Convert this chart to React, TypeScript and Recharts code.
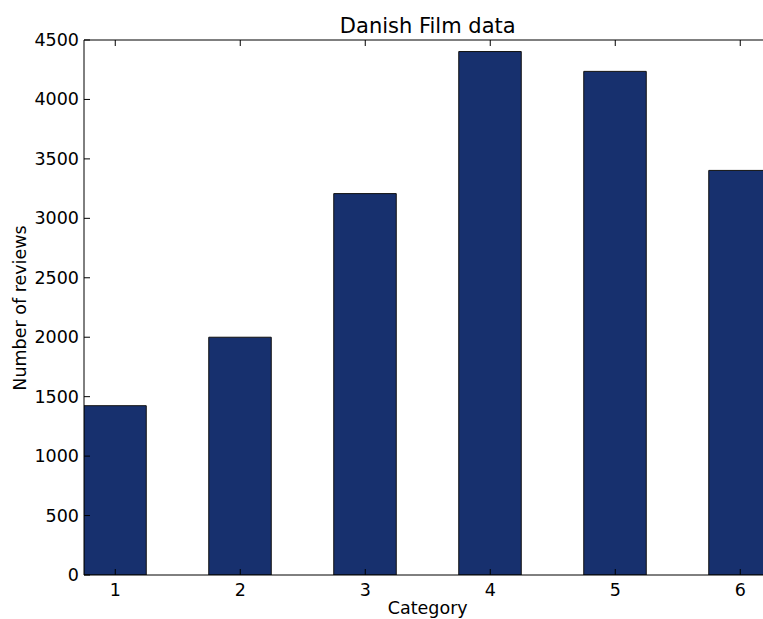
import React from 'react';
import { BarChart, Bar, XAxis, YAxis } from 'recharts';

const categories = [1, 2, 3, 4, 5, 6];
const reviewCounts = [1424, 2000, 3208, 4403, 4236, 3403];
const yTicks = [0, 500, 1000, 1500, 2000, 2500, 3000, 3500, 4000, 4500];

const chartData = categories.map((c, i) => ({ category: c, reviews: reviewCounts[i] }));

const FONT = '"DejaVu Sans", sans-serif';
const FS = 17.5;

// matplotlib classic style: ticks point into the plot
const BottomTick = (props: any) => {
  const { x, y, payload } = props;
  return (
    <g>
      <line x1={x} y1={y} x2={x} y2={y - 6} stroke="#000" strokeWidth={1} />
      <text x={x} y={y + 21} textAnchor="middle" fontFamily={FONT} fontSize={FS} fill="#000">
        {payload.value}
      </text>
    </g>
  );
};

const TopTick = (props: any) => {
  const { x, y } = props;
  return <line x1={x} y1={y} x2={x} y2={y + 6} stroke="#000" strokeWidth={1} />;
};

const LeftTick = (props: any) => {
  const { x, y, payload } = props;
  return (
    <g>
      <line x1={x} y1={y} x2={x + 6} y2={y} stroke="#000" strokeWidth={1} />
      <text x={x - 5} y={y + 6} textAnchor="end" fontFamily={FONT} fontSize={FS} fill="#000">
        {payload.value}
      </text>
    </g>
  );
};

export default function App() {
  const width = 800;
  const height = 619;

  return (
    <div style={{ position: 'absolute', left: 0, top: 0, width: 763, height: 619, overflow: 'hidden', background: '#fff' }}>
      <BarChart
        width={width}
        height={height}
        data={chartData}
        margin={{ top: 0, right: 28.5, left: 0, bottom: 0 }}
      >
        <XAxis
          dataKey="category"
          type="number"
          domain={[0.75, 6.25]}
          ticks={categories}
          allowDataOverflow
          height={44}
          tickSize={0}
          tickMargin={0}
          tick={<BottomTick />}
          axisLine={{ stroke: '#000', strokeWidth: 1 }}
          tickLine={false}
          interval={0}
        />
        <XAxis
          xAxisId="top"
          orientation="top"
          dataKey="category"
          type="number"
          domain={[0.75, 6.25]}
          ticks={categories}
          allowDataOverflow
          height={40}
          tickSize={0}
          tickMargin={0}
          tick={<TopTick />}
          axisLine={{ stroke: '#000', strokeWidth: 1 }}
          tickLine={false}
          interval={0}
        />
        <YAxis
          width={84}
          domain={[0, 4500]}
          ticks={yTicks}
          allowDataOverflow
          tickSize={0}
          tickMargin={0}
          tick={<LeftTick />}
          axisLine={{ stroke: '#000', strokeWidth: 1 }}
          tickLine={false}
          interval={0}
        />
        <Bar
          dataKey="reviews"
          barSize={62.5}
          fill="#17306e"
          stroke="#111"
          strokeWidth={1}
          isAnimationActive={false}
        />
      </BarChart>
      <div
        style={{
          position: 'absolute', left: 84, width: 687.5, top: 14, textAlign: 'center',
          fontFamily: FONT, fontSize: 21, lineHeight: '24px', color: '#000',
        }}
      >
        Danish Film data
      </div>
      <div
        style={{
          position: 'absolute', left: 84, width: 687.5, top: 597, textAlign: 'center',
          fontFamily: FONT, fontSize: FS, lineHeight: '22px', color: '#000',
        }}
      >
        Category
      </div>
      <div
        style={{
          position: 'absolute', left: 20, top: 307.5, transform: 'translate(-50%, -50%) rotate(-90deg)',
          whiteSpace: 'nowrap', fontFamily: FONT, fontSize: FS, lineHeight: '22px', color: '#000',
        }}
      >
        Number of reviews
      </div>
    </div>
  );
}
